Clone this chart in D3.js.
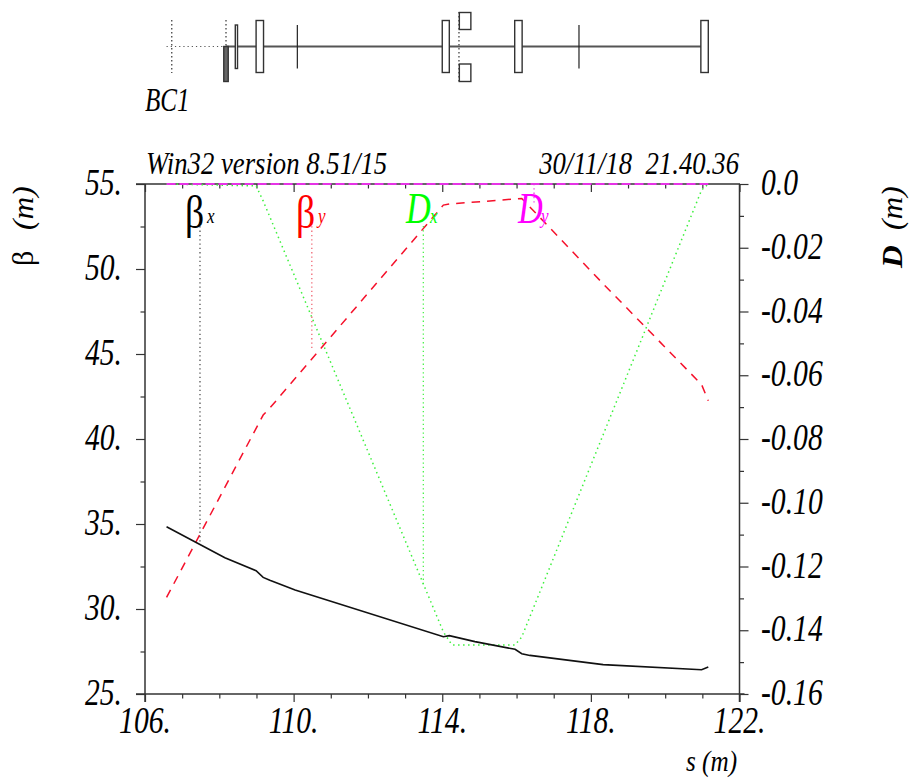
<!DOCTYPE html>
<html><head><meta charset="utf-8">
<script src="https://cdn.jsdelivr.net/npm/d3@7"></script>
<style>html,body{margin:0;background:#fff}svg{display:block}text{font-family:"Liberation Serif",serif;fill:#000;white-space:pre}</style>
</head><body><script>
// Values
const betaTicks=[25,30,35,40,45,50,55];
const betaMinor=[27.5,32.5,37.5,42.5,47.5,52.5];
const dTicks=[0,-0.02,-0.04,-0.06,-0.08,-0.10,-0.12,-0.14,-0.16];
const dLabels=["0.0","-0.02","-0.04","-0.06","-0.08","-0.10","-0.12","-0.14","-0.16"];
const dMinor=[-0.01,-0.03,-0.05,-0.07,-0.09,-0.11,-0.13,-0.15];
const sTicks=[106,110,114,118,122];
const sMinor=[107,108,109,111,112,113,115,116,117,119,120,121];

const betaXs=[106.58,108.15,108.99,109.18,109.36,110.04,114.03,114.19,114.88,115.96,116.14,116.36,118.33,120.98,121.16];
const betaXv=[34.84,33.02,32.25,31.86,31.69,31.12,28.37,28.43,28.08,27.63,27.37,27.27,26.73,26.43,26.59];
const betaYs=[106.58,109.18,109.36,114.03,114.19,115.96,116.14,118.33,120.98,121.16];
const betaYv=[30.68,41.41,41.82,53.76,53.82,54.12,54.15,49.13,43.2,42.25];
const dxS=[106.58,108.99,109.18,114.03,114.26,115.96,116.14,120.98,121.16];
const dxV=[0,-0.0006,-0.0053,-0.1405,-0.1446,-0.1446,-0.1421,-0.0019,0];
const dyS=[106.58,121.16];
const dyV=[0,0];

const quadS=[[108.99,109.19],[114.00,114.19],[115.95,116.15],[120.96,121.16]];
const thinS=[[108.43,108.49]];
const bendS=[[108.12,108.24]];
const correctorS=[110.10,117.68];
const kickerS=[[114.46,114.77]];
const markerS=[106.72,108.18,114.45];
const beamStart=106.58, beamDriftEnd=108.18, beamEnd=121.16;

const W=909,H=780,L=145,R=739.5,T=184,B=694;
const x=d3.scaleLinear().domain([106,122]).range([L,R]);
const yB=d3.scaleLinear().domain([25,55]).range([B,T]);
const yD=d3.scaleLinear().domain([-0.16,0]).range([B,T]);
const svg=d3.select("body").append("svg").attr("width",W).attr("height",H);

function label(px,py,str,size,o={}){
  return svg.append("text").attr("transform",`translate(${px},${py}) ${o.rot?`rotate(${o.rot}) `:""}scale(${o.sx||0.78},1)`)
    .attr("font-size",size).attr("font-style",o.upright?"normal":"italic").attr("font-weight",o.bold?"bold":"normal")
    .attr("text-anchor",o.anchor||"start").style("fill",o.color||"#000").text(str);
}

// Beamline
const BM=46.5;
const g=svg.append("g");
g.append("line").attr("x1",x(beamStart)).attr("x2",x(beamDriftEnd)).attr("y1",BM).attr("y2",BM)
  .attr("stroke","#555").attr("stroke-width",1.2).attr("stroke-dasharray","1.2 3");
g.append("line").attr("x1",x(beamDriftEnd)).attr("x2",x(beamEnd)).attr("y1",BM).attr("y2",BM)
  .attr("stroke","#555").attr("stroke-width",2);
g.selectAll(".mk").data(markerS).join("line").attr("x1",d=>x(d)).attr("x2",d=>x(d))
  .attr("y1",(d,i)=>i==2?12:20).attr("y2",(d,i)=>i==1?BM:i==2?82:73)
  .attr("stroke","#444").attr("stroke-width",1.3).attr("stroke-dasharray","1.5 2.5");
function boxes(cls,data,y0,y1,fill,sw){
  g.selectAll("."+cls).data(data).join("rect").attr("x",d=>x(d[0])).attr("width",d=>x(d[1])-x(d[0]))
   .attr("y",y0).attr("height",y1-y0).attr("fill",fill).attr("stroke","#333").attr("stroke-width",sw);
}
boxes("q",quadS,20.5,72.5,"#fff",1.4);
boxes("t",thinS,25,68.5,"#fff",1.4);
boxes("b",bendS,46.5,81.5,"#666",1.4);
boxes("k1",kickerS,12.5,29.5,"#fff",1.4);
boxes("k2",kickerS,64,81.5,"#fff",1.4);
g.selectAll(".c").data(correctorS).join("line").attr("x1",d=>x(d)).attr("x2",d=>x(d)).attr("y1",25).attr("y2",68.5)
  .attr("stroke","#222").attr("stroke-width",1.2);
label(145,111,"BC1",33,{sx:0.76});

// Axes
const AC="#333";
function ticks(axisFn,scale,vals,len,tr){
  const a=svg.append("g").attr("transform",tr).call(axisFn(scale).tickValues(vals).tickSize(len).tickFormat(""));
  a.select(".domain").remove();
  a.selectAll("line").attr("stroke",AC).attr("stroke-width",1.2);
  return a;
}
svg.append("g").selectAll("line").data([[136,T,R+0.5,T],[136,B,R+5,B],[L,T,L,B+8],[R,T,R,B+8]]).join("line")
  .attr("x1",d=>d[0]).attr("y1",d=>d[1]).attr("x2",d=>d[2]).attr("y2",d=>d[3]).attr("stroke",AC).attr("stroke-width",1.5);
ticks(d3.axisLeft,yB,betaTicks,9,`translate(${L},0)`);
ticks(d3.axisLeft,yB,betaMinor,4.5,`translate(${L},0)`);
ticks(d3.axisRight,yD,dTicks,9,`translate(${R},0)`);
ticks(d3.axisRight,yD,dMinor,4.5,`translate(${R},0)`);
ticks(d3.axisBottom,x,sTicks,8,`translate(0,${B})`);
ticks(d3.axisBottom,x,sMinor,4.5,`translate(0,${B})`);
ticks(d3.axisBottom,x,sTicks,8,`translate(0,${T})`);
ticks(d3.axisBottom,x,sMinor,4.5,`translate(0,${T})`);

betaTicks.forEach(v=>label(L-23,yB(v)+11,v+".",38,{anchor:"end"}));
dTicks.forEach((v,i)=>label(761,yD(v)+11,dLabels[i],38));
sTicks.forEach(v=>label(x(v),733,v+".",38,{anchor:"middle"}));

// Curves
function curve(sv,vv,ys,color,width,dash){
  const ln=d3.line().x(d=>x(d[0])).y(d=>ys(d[1]));
  svg.append("path").attr("d",ln(d3.zip(sv,vv))).attr("fill","none").attr("stroke",color)
    .attr("stroke-width",width).attr("stroke-dasharray",dash);
}
curve(dxS,dxV,yD,"#3cf03c",1.5,"1.5 3.5");
curve(betaYs,betaYv,yB,"#f5102a",1.5,"8.5 7");
curve(dyS,dyV,yD,"#e632e6",2,"9 4");
curve(betaXs,betaXv,yB,"#111",1.6,null);

// Legend leaders
function leader(s,y0,y1,c){svg.append("line").attr("x1",x(s)).attr("x2",x(s)).attr("y1",y0).attr("y2",y1)
  .attr("stroke",c).attr("stroke-width",1.2).attr("stroke-dasharray","1.3 3");}
leader(107.48,222,yB(33.8),"#444");
leader(110.49,222,yB(45.3),"#ef5a68");
leader(113.49,226,yD(-0.126),"#3cf03c");
leader(116.47,184,205,"#e632e6");

// Legend
label(185,228,"β",46,{upright:true,sx:0.82});
label(207,223,"x",20,{sx:0.85});
label(296,228,"β",46,{upright:true,sx:0.82,color:"#f00"});
label(318,223,"y",20,{color:"#f00",sx:0.85});
label(406,223,"D",44,{color:"#0f0"});
label(430,223,"x",20,{color:"#0f0",sx:0.85});
label(518,223,"D",44,{color:"#f0f"});
label(541,223,"y",20,{color:"#f0f",sx:0.85});

// Titles
label(146,174,"Win32 version 8.51/15",32,{sx:0.835});
label(739,174,"30/11/18  21.40.36",32,{anchor:"end",sx:0.835});
label(686,771,"s (m)",30,{sx:0.84});
label(33,266,"β",30,{rot:-90,sx:1,upright:true});
label(33,230,"(m)",30,{rot:-90,sx:1.05});
label(902,268,"D",30,{rot:-90,bold:true,sx:1.05});
label(902,230,"(m)",30,{rot:-90,sx:1.05});
</script></body></html>
